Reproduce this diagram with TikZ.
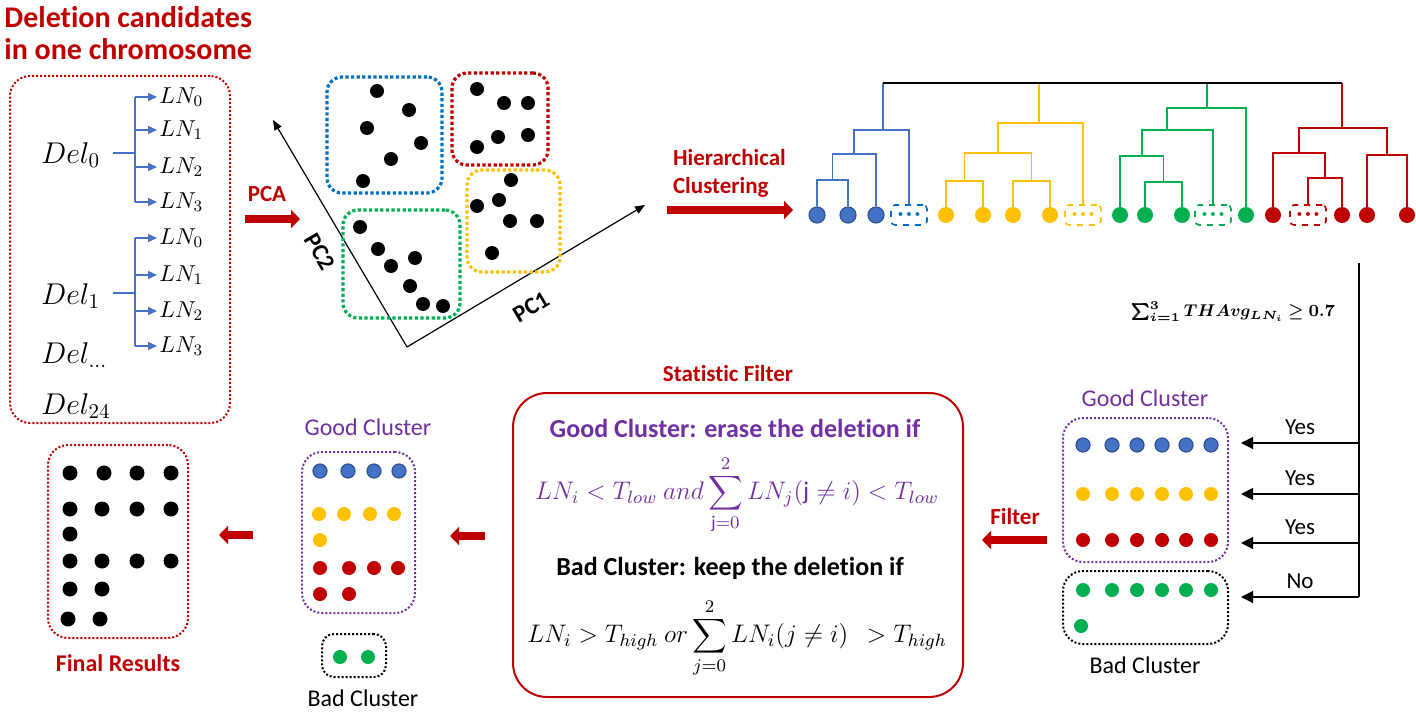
\RequirePackage{fix-cm}
\documentclass[tikz,border=0pt]{standalone}
\usepackage{amsmath,bm}
\usepackage{fontspec}
\setmainfont{Carlito}[Ligatures=NoCommon]
\usetikzlibrary{arrows.meta,positioning,calc}
\definecolor{ored}{HTML}{C00000}
\definecolor{opurple}{HTML}{7030A0}
\definecolor{offblue}{HTML}{4472C4}
\definecolor{bluedark}{HTML}{2F528F}
\definecolor{oblue}{HTML}{0070C0}
\definecolor{oyellow}{HTML}{FFC000}
\definecolor{ogreen}{HTML}{00B050}
\tikzset{
  ttl/.style={text=ored,font=\bfseries\fontsize{15}{16}\selectfont,align=left},
  redlbl/.style={text=ored,font=\bfseries\fontsize{11.5}{14}\selectfont,align=left},
  dotbox/.style={draw,dash pattern=on 1pt off 1pt,line width=1pt,rounded corners=10pt},
  clubox/.style={draw,dash pattern=on 1.6pt off 1.2pt,line width=1.6pt,rounded corners=7.5pt},
  ptdot/.style={circle,fill=black,inner sep=0pt,minimum size=7pt},
  cdot/.style={circle,inner sep=0pt,minimum size=7pt},
  leaf/.style={circle,inner sep=0pt,minimum size=8pt},
  dotsbox/.style={draw,dashed,rounded corners=2pt,minimum width=18pt,minimum height=10pt,line width=0.8pt,inner sep=0pt,font=\fontsize{4}{4}\selectfont},
  branch/.style={line width=0.6pt},
  redarr/.style={-{Triangle[length=4.5pt,width=9pt]},line width=4pt,draw=ored},
  axarr/.style={-{Triangle[length=5pt,width=4pt]},line width=0.6pt},
  bluarr/.style={-{Triangle[length=4.5pt,width=4pt]},line width=0.6pt,draw=offblue},
  blkarr/.style={-{Triangle[length=6pt,width=6pt]},line width=0.6pt},
  dellbl/.style={anchor=west,font=\fontsize{15}{18}\selectfont},
  lnlbl/.style={anchor=west,inner sep=1pt,font=\fontsize{11.5}{13}\selectfont},
  txt/.style={font=\fontsize{11.5}{13}\selectfont},
  axlbl/.style={font=\bfseries\fontsize{12}{14}\selectfont}
}
\begin{document}
\begin{tikzpicture}[x=0.5pt,y=-0.5pt]
  \useasboundingbox (0,0) rectangle (1416,711);
  % Deletion candidates
  \node[ttl, anchor=north west, inner sep=0pt] (title) at (4,6) {Deletion candidates\\in one chromosome};
  \node[dotbox, draw=ored, minimum width=110pt, minimum height=173.5pt] (delbox) at (120,249.5) {};
  \node[dellbl] (del0) at (34,155) {$Del_0$};
  \node[dellbl] (del1) at (34,296) {$Del_1$};
  \node[dellbl] (deldots) at (34,355) {$Del_{\ldots}$};
  \node[dellbl] (del24) at (34,406) {$Del_{24}$};

  \coordinate (j0) at (135,153);
  \coordinate (j1) at (135,293);
  \draw[branch, offblue] ([xshift=3pt]j0 -| del0.east) -- (j0);
  \draw[branch, offblue] ([xshift=3pt]j1 -| del1.east) -- (j1);
  \draw[branch, offblue] (135,97) -- (135,202);
  \draw[branch, offblue] (135,238) -- (135,346);
  \foreach \k/\yy in {0/97,1/130,2/167,3/202} {
    \node[lnlbl] (lna\k) at (157,\yy) {$LN_{\k}$};
    \draw[bluarr] (135,\yy) -- (lna\k.west);
  }
  \foreach \k/\yy in {0/238,1/275,2/311,3/346} {
    \node[lnlbl] (lnb\k) at (157,\yy) {$LN_{\k}$};
    \draw[bluarr] (135,\yy) -- (lnb\k.west);
  }

  % PCA
  \coordinate (pcaS) at (245,219);
  \coordinate (pcaE) at (300,219);
  \draw[redarr] (pcaS) -- (pcaE);
  \node[redlbl] (pcalbl) at (267,194) {PCA};

  \coordinate (org) at (407,347);
  \coordinate (pc2end) at (273,120);
  \coordinate (pc1end) at (645,205);
  \draw[axarr] (org) -- (pc2end);
  \draw[axarr] (org) -- (pc1end);
  \node[axlbl, rotate=-59.5, inner sep=0pt] (pc2lbl) at (320,252) {PC2};
  \node[axlbl, rotate=30.8, inner sep=0pt] (pc1lbl) at (531,307) {PC1};

  \node[clubox, draw=oblue, minimum width=57.5pt, minimum height=58pt] (cluB) at (384.5,135) {};
  \node[clubox, draw=ored, minimum width=48pt, minimum height=46pt] (cluR) at (500,119) {};
  \node[clubox, draw=oyellow, minimum width=46.5pt, minimum height=51pt] (cluY) at (513.5,221) {};
  \node[clubox, draw=ogreen, minimum width=58.5pt, minimum height=54pt] (cluG) at (401.5,264) {};
  \foreach \xx/\yy [count=\i] in {377/91,409/110,367/128,421/143,391/159,363/181,
      477/89,504/103,528/103,498/137,528/135,477/147,
      511/180,499/200,477/206,510/221,537/221,492/253,
      360/227,378/249,391/266,415/258,410/286,423/304,443/306}
    \node[ptdot] (pt\i) at (\xx,\yy) {};

  % Hierarchical Clustering
  \coordinate (hcS) at (667,210);
  \coordinate (hcE) at (793,210);
  \draw[redarr] (hcS) -- (hcE);
  \node[redlbl, anchor=west] (hclbl) at (666,173) {Hierarchical\\Clustering};

  \foreach \n/\xx in {b1/817,b2/848,b3/876}
    \node[leaf, fill=offblue, draw=bluedark, line width=0.6pt] (\n) at (\xx,215) {};
  \node[dotsbox, draw=oblue, text=oblue] (bx) at (909,215) {$\bullet\bullet\bullet$};
  \foreach \n/\xx in {y1/946,y2/983,y3/1013,y4/1050}
    \node[leaf, fill=oyellow] (\n) at (\xx,215) {};
  \node[dotsbox, draw=oyellow, text=oyellow] (yx) at (1083,215) {$\bullet\bullet\bullet$};
  \foreach \n/\xx in {g1/1120,g2/1145,g3/1182,g4/1246}
    \node[leaf, fill=ogreen] (\n) at (\xx,215) {};
  \node[dotsbox, draw=ogreen, text=ogreen] (gx) at (1213,215) {$\bullet\bullet\bullet$};
  \foreach \n/\xx in {r1/1273,r2/1342,r3/1367,r4/1407}
    \node[leaf, fill=ored] (\n) at (\xx,215) {};
  \node[dotsbox, draw=ored, text=ored] (rx) at (1308,215) {$\bullet\bullet\bullet$};

  \coordinate (bA) at (832.5,180); \coordinate (bB) at (854,154); \coordinate (bC) at (883,130);
  \coordinate (yA) at (964.5,181); \coordinate (yB) at (1031.5,181);
  \coordinate (yC) at (998,153); \coordinate (yD) at (1039,123);
  \coordinate (gA) at (1163.5,182); \coordinate (gB) at (1142,156);
  \coordinate (gC) at (1167,130); \coordinate (gD) at (1207,108);
  \coordinate (rA) at (1325,178); \coordinate (rB) at (1299,153);
  \coordinate (rC) at (1387,155); \coordinate (rD) at (1342,128);
  \foreach \l/\m/\r in {b1/bA/b2,bA/bB/b3,bB/bC/bx}
    \draw[branch, offblue] (\l) |- (\m) -| (\r);
  \foreach \l/\m/\r in {y1/yA/y2,y3/yB/y4,yA/yC/yB,yC/yD/yx}
    \draw[branch, oyellow] (\l) |- (\m) -| (\r);
  \foreach \l/\m/\r in {g2/gA/g3,g1/gB/gA,gB/gC/gx,gC/gD/g4}
    \draw[branch, ogreen] (\l) |- (\m) -| (\r);
  \foreach \l/\m/\r in {rx/rA/r2,r1/rB/rA,r3/rC/r4,rB/rD/rC}
    \draw[branch, ored] (\l) |- (\m) -| (\r);
  \coordinate (topL) at (883,83);
  \coordinate (topR) at (1342,83);
  \draw[branch, offblue] (bC) -- (topL);
  \draw[branch, oyellow] (yD) -- (yD |- topL);
  \draw[branch, ogreen] (gD) -- (gD |- topL);
  \draw[branch, ored] (rD) -- (topR);
  \draw[line width=0.9pt] (topL) -- (topR);

  % Threshold split
  \coordinate (trtop) at (1359,263);
  \coordinate (trbot) at (1359,597);
  \draw[branch] (trtop) -- (trbot);
  \node[anchor=east, font=\fontsize{8.5}{11}\selectfont] (thr) at (1342,312) {$\bm{\sum_{i=1}^{3} THAvg_{LN_i} \geq 0.7}$};

  \node[txt, text=opurple, font=\fontsize{12}{14}\selectfont] (goodRlbl) at (1145,398) {Good Cluster};
  \node[dotbox, draw=opurple, minimum width=82.5pt, minimum height=72pt] (goodR) at (1145.5,490) {};
  \node[dotbox, draw=black, minimum width=82.5pt, minimum height=36.5pt] (badR) at (1145.5,607.5) {};
  \node[txt, font=\fontsize{12}{14}\selectfont] (badRlbl) at (1145,665) {Bad Cluster};
  \foreach \xx [count=\i] in {1083,1112,1137,1162,1186,1211} {
    \node[cdot, fill=offblue, draw=bluedark, line width=0.6pt] (rbl\i) at (\xx,445) {};
    \node[cdot, fill=oyellow] (ryl\i) at (\xx,494) {};
    \node[cdot, fill=ored] (rrd\i) at (\xx,540) {};
    \node[cdot, fill=ogreen] (rgn\i) at (\xx,590) {};
  }
  \node[cdot, fill=ogreen] (rgn7) at (1081,626) {};

  \foreach \k/\yy/\w in {1/443/Yes,2/494/Yes,3/543/Yes,4/597/No} {
    \coordinate (t\k) at (1359,\yy);
    \draw[blkarr, shorten >=6pt] (t\k) -- (t\k -| goodR.east);
    \node[txt] (ans\k) at (1300,\yy-16) {\w};
  }

  % Statistic Filter
  \coordinate (fltS) at (1047,540);
  \coordinate (fltE) at (982,540);
  \draw[redarr] (fltS) -- (fltE);
  \node[redlbl] (fltlbl) at (1015,517) {Filter};

  \node[draw=ored, line width=1pt, rounded corners=17pt, minimum width=225pt, minimum height=152pt] (statbox) at (738,545) {};
  \node[redlbl] (statlbl) at (728,374) {Statistic Filter};
  \node[text=opurple, inner sep=0pt, font=\bfseries\fontsize{13}{15}\selectfont] (goodrule) at (735,428) {Good Cluster: erase the deletion if};
  \node[text=opurple, inner sep=0pt, font=\fontsize{12.7}{15}\selectfont] (goodeq) at (737,495)
    {$LN_i < T_{low}\ and \displaystyle\sum_{\mathrm{j}=0}^{2} LN_j(\mathrm{j} \neq i) < T_{low}$};
  \node[inner sep=0pt, font=\bfseries\fontsize{13}{15}\selectfont] (badrule) at (730,568) {Bad Cluster: keep the deletion if};
  \node[inner sep=0pt, font=\fontsize{12.7}{15}\selectfont] (badeq) at (737,638)
    {$LN_i > T_{high}\ or \displaystyle\sum_{j=0}^{2} LN_i(j \neq i)\ \ > T_{high}$};

  % Filtered clusters
  \coordinate (midS) at (485,536);
  \coordinate (midE) at (450,536);
  \draw[redarr] (midS) -- (midE);
  \node[txt, text=opurple, font=\fontsize{12}{14}\selectfont] (goodMlbl) at (368,427) {Good Cluster};
  \node[dotbox, draw=opurple, minimum width=56.5pt, minimum height=80.5pt] (goodM) at (358.5,532.5) {};
  \node[dotbox, draw=black, minimum width=32pt, minimum height=21.5pt, rounded corners=6pt] (badM) at (354,655.5) {};
  \node[txt, inner sep=1pt, font=\fontsize{12}{14}\selectfont] (badMlbl) at (363,698) {Bad Cluster};
  \foreach \xx/\yy [count=\i] in {320/471,348/471,374/471,399/471}
    \node[cdot, fill=offblue, draw=bluedark, line width=0.6pt] (mbl\i) at (\xx,\yy) {};
  \foreach \xx/\yy [count=\i] in {319/514,344/514,370/514,394/514,320/540}
    \node[cdot, fill=oyellow] (myl\i) at (\xx,\yy) {};
  \foreach \xx/\yy [count=\i] in {320/568,349/568,374/568,398/568,320/594,349/594}
    \node[cdot, fill=ored] (mrd\i) at (\xx,\yy) {};
  \foreach \xx/\yy [count=\i] in {340/657,368/657}
    \node[cdot, fill=ogreen] (mgn\i) at (\xx,\yy) {};

  % Final Results
  \coordinate (finS) at (253,535);
  \coordinate (finE) at (219,535);
  \draw[redarr] (finS) -- (finE);
  \node[dotbox, draw=ored, minimum width=70pt, minimum height=96.5pt] (finbox) at (118,541.5) {};
  \node[redlbl, font=\bfseries\fontsize{12}{14}\selectfont] (finlbl) at (118,663) {Final Results};
  \foreach \xx/\yy [count=\i] in {70/473,104/473,137/473,171/473,
      70/509,102/509,137/509,171/509,70/534,
      70/561,102/561,137/561,171/561,
      70/589,102/589,68/619,100/619}
    \node[ptdot, minimum size=7.5pt] (fin\i) at (\xx,\yy) {};
\end{tikzpicture}
\end{document}
